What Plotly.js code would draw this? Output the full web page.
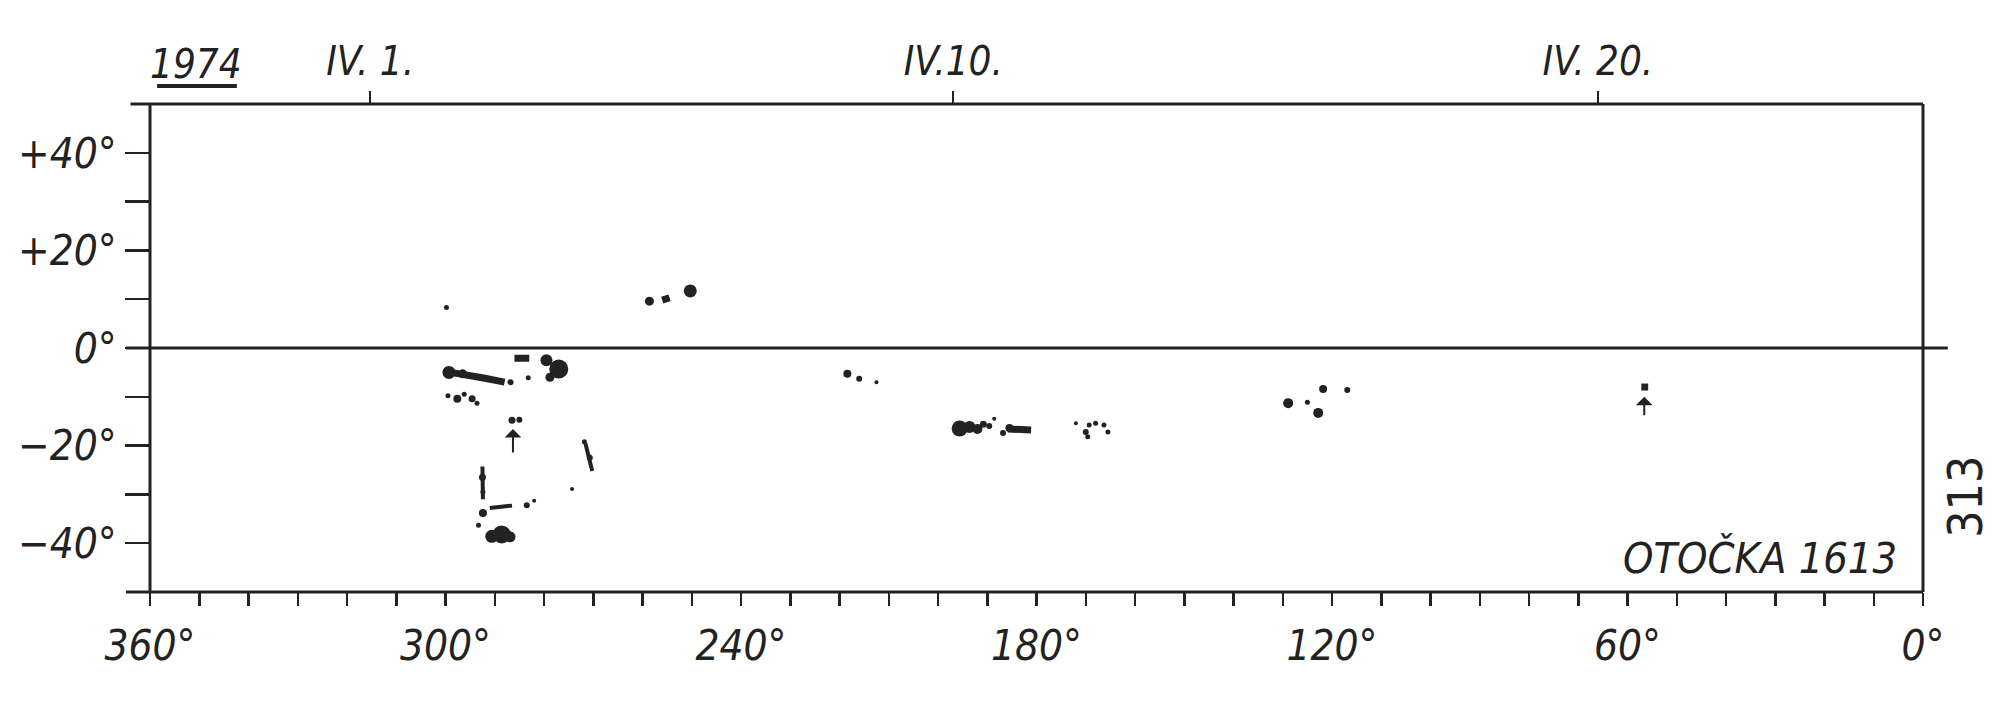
<!DOCTYPE html>
<html>
<head>
<meta charset="utf-8">
<script src="https://cdn.plot.ly/plotly-3.0.1.min.js"></script>
<style>html,body{margin:0;padding:0;background:#fff;}#chart{width:2000px;height:701px;}</style>
</head>
<body>
<div id="chart"></div>
<script>
// ---- axis ticks and labels ----
const lonTicks = [0,10,20,30,40,50,60,70,80,90,100,110,120,130,140,150,160,170,180,190,200,210,220,230,240,250,260,270,280,290,300,310,320,330,340,350,360];
const lonLabeled = [360, 300, 240, 180, 120, 60, 0];
const latTicks = [40, 30, 20, 10, 0, -10, -20, -30, -40];
const latLabeled = {"40": "+40°", "20": "+20°", "0": "0°", "-20": "−20°", "-40": "−40°"};
const dateLon = [315.3, 196.9, 66.0];
const dateText = ["IV. 1.", "IV.10.", "IV. 20."];
const yearText = "1974";
const rotationText = "OTOČKA 1613";
const pageText = "313";

// ---- round spots (Carrington longitude, latitude, marker size) ----
const spotLon = [299.8, 258.6, 250.3, 299.3, 296.5, 286.8, 283.2, 279.5, 277.0, 278.8,
                 299.5, 297.6, 296.2, 294.6, 293.6, 286.5, 285.0, 271.8, 270.7, 274.3,
                 292.5, 292.4, 292.4, 283.5, 282.0, 293.3, 290.6, 288.6, 286.9,
                 218.4, 216.0, 212.5,
                 195.6, 193.6, 192.0, 190.8, 189.6, 188.6, 186.8, 185.5,
                 172.0, 170.0, 169.3, 168.0, 166.3, 165.5, 169.6,
                 128.9, 125.0, 121.8, 122.8, 116.9];
const spotLat = [8.3, 9.6, 11.7, -5.0, -5.3, -7.0, -6.1, -2.5, -4.3, -6.0,
                 -9.8, -10.4, -9.5, -10.4, -11.3, -14.8, -14.7, -19.2, -22.5, -28.9,
                 -26.5, -29.5, -33.8, -32.2, -31.3, -36.3, -38.6, -38.2, -38.7,
                 -5.3, -6.3, -7.0,
                 -16.5, -16.2, -16.6, -15.6, -16.0, -14.5, -17.4, -16.4,
                 -15.4, -17.2, -15.8, -15.4, -15.8, -17.2, -18.2,
                 -11.3, -11.1, -8.4, -13.3, -8.6];
const spotSize = [5, 9, 13, 13, 9, 6, 5, 12, 19, 9,
                  5, 8, 5, 7, 5, 7, 6, 5, 6, 4,
                  7, 5, 8, 6, 4, 5, 13, 18, 11,
                  8, 6, 4,
                  16, 12, 10, 7, 6, 4, 6, 8,
                  4, 6, 5, 5, 5, 5, 5,
                  10, 5, 8, 10, 6];

// ---- elongated spot groups (segments separated by null) ----
const thickStreakLon = [299.5, 296.0, 292.0, 288.0, null, 286.0, 283.0, null, 256.0, 254.5, null, 185.8, 181.1, null, 57.2, 55.8];
const thickStreakLat = [-4.9, -5.4, -6.2, -7.0, null, -2.1, -2.1, null, 9.8, 10.3, null, -16.6, -16.8, null, -8.0, -8.0];
const thinStreakLon = [271.6, 270.9, 270.2, null, 292.5, 292.4, null, 291.0, 286.5];
const thinStreakLat = [-19.5, -22.5, -25.2, null, -24.3, -31.0, null, -32.8, -32.3];

// ---- arrows marking new groups ----
const arrowLon = [286.3, 56.6];
const arrowLat = [-16.6, -10.0];
const arrowLen = [25, 20];

const FONT = "DejaVu Sans Condensed, Liberation Sans Narrow, DejaVu Sans, sans-serif";
const INK = "#222222";

const lonTickText = lonTicks.map(v => lonLabeled.indexOf(v) >= 0 ? v + "°" : "");
const latTickText = latTicks.map(v => latLabeled[String(v)] || "");

const traces = [
  {
    type: "scatter", mode: "lines", x: thickStreakLon, y: thickStreakLat,
    line: {color: INK, width: 7}, connectgaps: false, hoverinfo: "skip", opacity: 1
  },
  {
    type: "scatter", mode: "lines", x: thinStreakLon, y: thinStreakLat,
    line: {color: INK, width: 4}, connectgaps: false, hoverinfo: "skip", opacity: 1
  },
  {
    type: "scatter", mode: "markers", x: spotLon, y: spotLat,
    marker: {color: INK, size: spotSize, opacity: 1, line: {width: 0}}, hoverinfo: "x+y"
  },
  {
    type: "scatter", mode: "markers", x: dateLon, y: dateLon.map(() => null),
    xaxis: "x2", yaxis: "y", hoverinfo: "skip", showlegend: false
  }
];

const annotations = arrowLon.map((lon, i) => ({
  x: lon, y: arrowLat[i], xref: "x", yref: "y", text: "", showarrow: true,
  ax: 0, ay: arrowLen[i], arrowhead: 1, arrowsize: 1.4, arrowwidth: 2, arrowcolor: INK
}));
annotations.push({
  text: yearText, xref: "paper", yref: "paper", x: 0.026, y: 1.082,
  xanchor: "center", yanchor: "middle", showarrow: false,
  font: {family: FONT, size: 40, color: INK, style: "italic"}
});
annotations.push({
  text: rotationText, xref: "paper", yref: "paper", x: 0.908, y: 0.07,
  xanchor: "center", yanchor: "middle", showarrow: false,
  font: {family: FONT, size: 43, color: INK, style: "italic"}
});
annotations.push({
  text: pageText, xref: "paper", yref: "paper", x: 1.0237, y: 0.195,
  xanchor: "center", yanchor: "middle", showarrow: false, textangle: -90,
  font: {family: FONT, size: 48, color: INK}
});

const lineStyle = {color: INK, width: 3};
const shapes = [
  {type: "line", xref: "paper", yref: "y", x0: -0.0135, x1: 1.014, y0: 0, y1: 0, line: lineStyle},
  {type: "line", xref: "paper", yref: "paper", x0: -0.011, x1: 1, y0: 1, y1: 1, line: lineStyle},
  {type: "line", xref: "paper", yref: "paper", x0: -0.0135, x1: 1, y0: 0, y1: 0, line: lineStyle},
  {type: "line", xref: "paper", yref: "paper", x0: 0, x1: 0, y0: 0, y1: 1, line: lineStyle},
  {type: "line", xref: "paper", yref: "paper", x0: 1, x1: 1, y0: 0, y1: 1, line: lineStyle},
  {type: "line", xref: "paper", yref: "paper", x0: 0.004, x1: 0.049, y0: 1.037, y1: 1.037, line: {color: INK, width: 4}}
];

const tickFont = {family: FONT, size: 42, color: INK, style: "italic"};

const layout = {
  width: 2000, height: 701,
  margin: {l: 150, r: 77, t: 104, b: 109, pad: 0},
  paper_bgcolor: "#ffffff", plot_bgcolor: "#ffffff",
  showlegend: false,
  xaxis: {
    range: [360, 0], autorange: false, tickmode: "array",
    tickvals: lonTicks, ticktext: lonTickText,
    ticks: "outside", ticklen: 13, tickwidth: 2.5, tickcolor: INK,
    showgrid: false, zeroline: false, showline: false,
    tickfont: tickFont, ticklabelstandoff: 4
  },
  xaxis2: {
    overlaying: "x", side: "top", anchor: "y",
    range: [360, 0], autorange: false, tickmode: "array",
    tickvals: dateLon, ticktext: dateText,
    ticks: "outside", ticklen: 12, tickwidth: 2, tickcolor: INK,
    showgrid: false, zeroline: false, showline: false,
    tickfont: {family: FONT, size: 40, color: INK, style: "italic"}
  },
  yaxis: {
    range: [-50, 50], autorange: false, tickmode: "array",
    tickvals: latTicks, ticktext: latTickText,
    ticks: "outside", ticklen: 24, tickwidth: 2.5, tickcolor: INK,
    showgrid: false, zeroline: false, showline: false,
    tickfont: tickFont
  },
  shapes: shapes,
  annotations: annotations
};

Plotly.newPlot("chart", traces, layout, {staticPlot: true, displayModeBar: false});
</script>
</body>
</html>
